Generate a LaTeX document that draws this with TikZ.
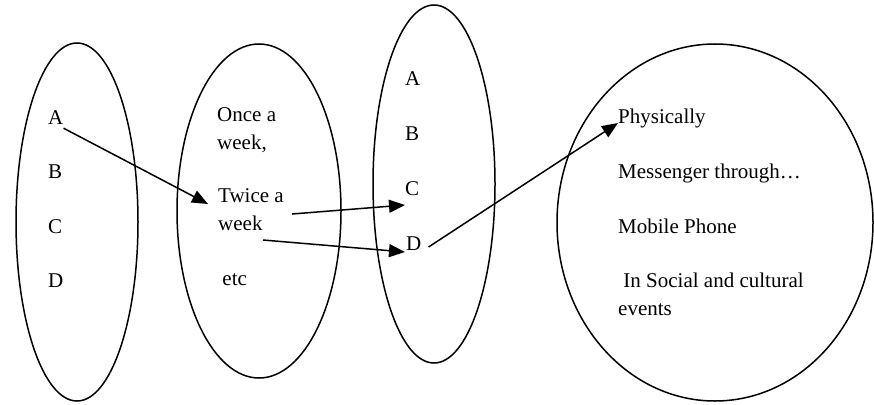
\documentclass[tikz,border=0pt]{standalone}
\usepackage{fontspec}
\setmainfont{Liberation Serif}
\usetikzlibrary{shapes.geometric}
\usetikzlibrary{arrows.meta}
\usetikzlibrary{positioning}

\begin{document}
\begin{tikzpicture}
  [x=1pt,y=-1pt,
  font=\fontsize{21}{27.5}\selectfont,
  setoval/.style={ellipse,draw=black,line width=1.5pt,inner sep=0pt},
  item/.style={anchor=base west,inner sep=0pt,align=left},
  maparrow/.style={-{Triangle[length=16pt,width=13pt]},black,line width=1.5pt}]
  \useasboundingbox (0,0) rectangle (874,404);

  \node[setoval,minimum width=122pt,minimum height=358pt] (left) at (77,222) {};
  \node[setoval,minimum width=164pt,minimum height=334pt] (freq) at (259,211) {};
  \node[setoval,minimum width=122pt,minimum height=358pt] (right) at (434,184) {};
  \node[setoval,minimum width=316pt,minimum height=357pt] (mode) at (715,222.5) {};

  \node[item] (a1) at (48,124) {A};
  \node[item] (b1) at (48,178) {B};
  \node[item] (c1) at (48,233) {C};
  \node[item] (d1) at (48,287) {D};

  \node[item] (once) at (217,149) {Once a\\week,};
  \node[item] (twice) at (218,230) {Twice a\\week};
  \node[item] (etc) at (217,285) {\ etc};

  \node[item] (a2) at (405,85) {A};
  \node[item] (b2) at (405,140) {B};
  \node[item] (c2) at (405,195) {C};
  \node[item] (d2) at (406,250) {D};

  \node[item] (phys) at (618,123) {Physically};
  \node[item] (msgr) at (618,178) {Messenger through…};
  \node[item] (mobile) at (618,233) {Mobile Phone};
  \node[item] (social) at (618,315) {\ In Social and cultural\\events};

  \draw [maparrow] ([yshift=-4pt]a1.south east) -- ([xshift=-10pt,yshift=26pt]twice.base west);
  \draw [maparrow] ([xshift=74pt,yshift=16pt]twice.base west) -- ([yshift=-10pt]c2.base west);
  \draw [maparrow] ([xshift=45pt,yshift=-10pt]twice.base west) -- ([xshift=-1pt,yshift=-2pt]d2.base west);
  \draw [maparrow] ([xshift=7pt,yshift=3pt]d2.base east) -- (phys.base west);

\end{tikzpicture}
\end{document}
